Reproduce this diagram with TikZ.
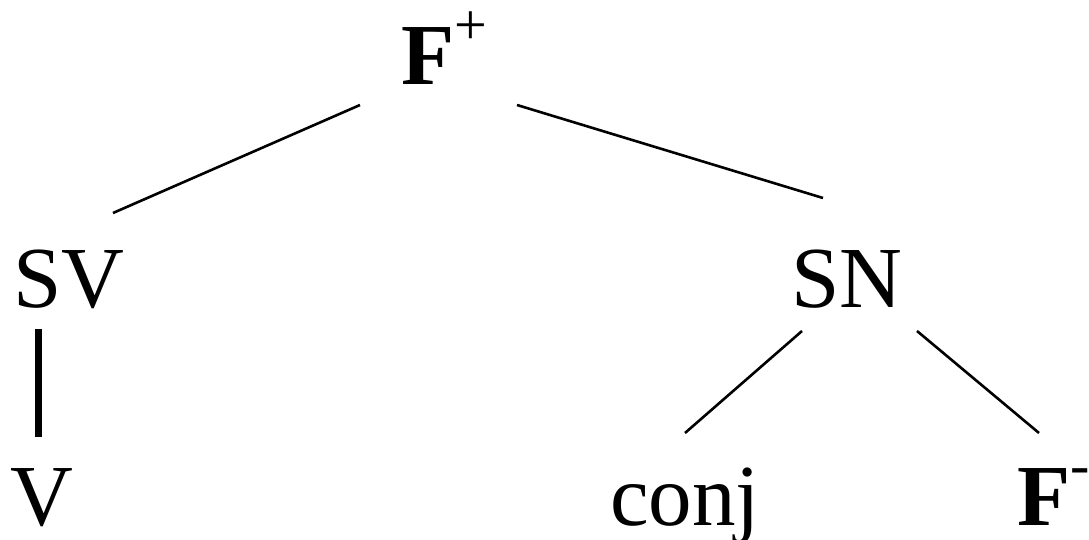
\documentclass[tikz,border=0pt]{standalone}
\usepackage{fontspec}
\setmainfont{Liberation Serif}
\newcommand{\supsym}[1]{\raisebox{0.47em}{\fontsize{58}{58}\selectfont #1}}
\begin{document}
\begin{tikzpicture}[
  lbl/.style={anchor=base west, inner sep=0pt, outer sep=0pt, font=\fontsize{87}{87}\selectfont},
  edge/.style={line width=2.6pt, black},
  thickedge/.style={line width=7pt, black}
]
\useasboundingbox (0pt,0pt) rectangle (1089pt,-540pt);
\node[lbl] (Fp) at (401pt,-85pt) {\textbf{F}\supsym{+}};
\node[lbl] (SV) at (13pt,-307pt) {SV};
\node[lbl] (SN) at (791pt,-307pt) {SN};
\node[lbl] (V) at (10.5pt,-525pt) {V};
\node[lbl] (conj) at (610pt,-525pt) {conj};
\node[lbl] (Fm) at (1017pt,-525pt) {\textbf{F}\supsym{-}};
\draw[edge] ([shift={(-41pt,-20pt)}]Fp.base west) -- ([shift={(100pt,94pt)}]SV.base west);
\draw[edge] ([shift={(116pt,-20pt)}]Fp.base west) -- ([shift={(32pt,109pt)}]SN.base west);
\draw[thickedge] ([shift={(25.5pt,-22pt)}]SV.base west) -- ([shift={(28pt,88pt)}]V.base west);
\draw[edge] ([shift={(11pt,-24pt)}]SN.base west) -- ([shift={(75pt,92pt)}]conj.base west);
\draw[edge] ([shift={(126pt,-24pt)}]SN.base west) -- ([shift={(22pt,92pt)}]Fm.base west);
\end{tikzpicture}
\end{document}
